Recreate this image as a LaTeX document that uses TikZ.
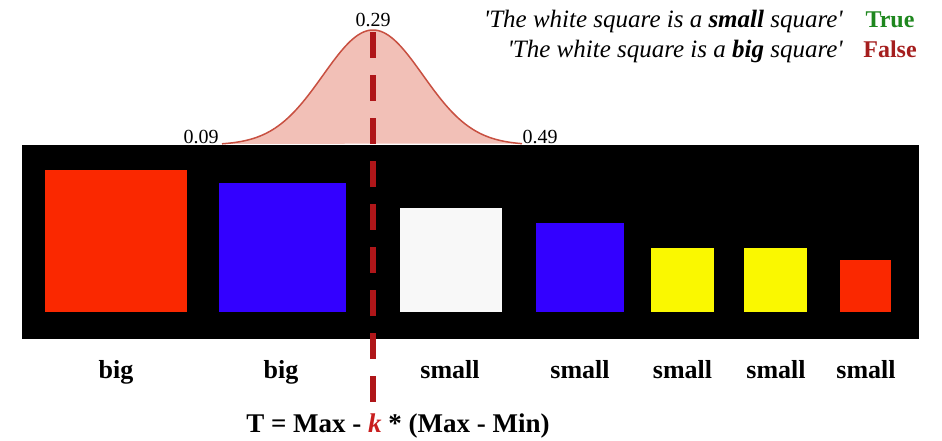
\documentclass[tikz,border=0pt]{standalone}
\usepackage{fontspec}
\setmainfont{Liberation Serif}
\definecolor{sqred}{RGB}{250,40,0}
\definecolor{sqblue}{RGB}{51,0,255}
\definecolor{sqyellow}{RGB}{250,248,0}
\definecolor{sqwhite}{RGB}{248,248,248}
\definecolor{dashred}{RGB}{175,22,25}
\definecolor{curveline}{RGB}{200,80,65}
\definecolor{curvefill}{RGB}{242,192,183}
\definecolor{truegreen}{RGB}{30,135,30}
\definecolor{falsered}{RGB}{165,30,30}
\definecolor{kred}{RGB}{200,30,30}
\begin{document}
\begin{tikzpicture}[x=1pt,y=-1pt,
  sq/.style={inner sep=0pt, outer sep=0pt, draw=none},
  lbl/.style={font=\fontsize{26}{28}\selectfont\bfseries, anchor=base, inner sep=0pt},
  formulastyle/.style={font=\fontsize{27}{29}\selectfont\bfseries, anchor=base, inner sep=0pt},
  num/.style={font=\fontsize{20}{22}\selectfont, anchor=base, inner sep=0pt},
  stmt/.style={font=\fontsize{25}{27}\selectfont\itshape, anchor=base east, inner sep=0pt},
  verdict/.style={font=\fontsize{24}{26}\selectfont\bfseries, anchor=base, inner sep=0pt},
  threshold/.style={draw=dashred, line width=5.5pt, dash pattern=on 26pt off 17pt}]
\useasboundingbox (0,0) rectangle (942,440);
% gaussian
\fill[curvefill] plot[domain=222:522, samples=120, smooth] (\x, {145-115*exp(-0.5*((\x-373)/50)^2)}) -- cycle;
\draw[curveline, line width=1.5pt] plot[domain=222:522, samples=120, smooth] (\x, {145-115*exp(-0.5*((\x-373)/50)^2)});
% band
\node[sq, fill=black, minimum width=897pt, minimum height=194pt] (band) at (470.5,241.5) {};
% squares
\node[sq, fill=sqred, minimum width=142pt, minimum height=142pt] (s1) at (116,241) {};
\node[sq, fill=sqblue, minimum width=127pt, minimum height=129pt] (s2) at (282.5,247.5) {};
\node[sq, fill=sqwhite, minimum width=102pt, minimum height=104pt] (s3) at (451,260) {};
\node[sq, fill=sqblue, minimum width=88pt, minimum height=89pt] (s4) at (580,267.5) {};
\node[sq, fill=sqyellow, minimum width=63pt, minimum height=64pt] (s5) at (682.5,280) {};
\node[sq, fill=sqyellow, minimum width=63pt, minimum height=64pt] (s6) at (775.5,280) {};
\node[sq, fill=sqred, minimum width=51pt, minimum height=52pt] (s7) at (865.5,286) {};
% labels
\node[lbl] (l1) at (116,378) {big};
\node[lbl] (l2) at (281,378) {big};
\node[lbl] (l3) at (450,378) {small};
\node[lbl] (l4) at (580,378) {small};
\node[lbl] (l5) at (682.5,378) {small};
\node[lbl] (l6) at (776,378) {small};
\node[lbl] (l7) at (866,378) {small};
% numbers
\node[num] (n1) at (201,143) {0.09};
\node[num] (n2) at (373,26) {0.29};
\node[num] (n3) at (540,143) {0.49};
% statements
\node[stmt] (st1) at (843,27) {\textquotesingle The white square is a \textbf{small} square\textquotesingle};
\node[stmt] (st2) at (843,57) {\textquotesingle The white square is a \textbf{big} square\textquotesingle};
\node[verdict, text=truegreen] (v1) at (890,27) {True};
\node[verdict, text=falsered] (v2) at (890,57) {False};
% formula
\node[formulastyle] (formula) at (398,432) {T = Max - \textcolor{kred}{\textit{k}} * (Max - Min)};
% threshold line
\coordinate (ttop) at (373,32);
\coordinate (tbot) at (373,403);
\draw[threshold] (ttop) -- (tbot);
\end{tikzpicture}
\end{document}
